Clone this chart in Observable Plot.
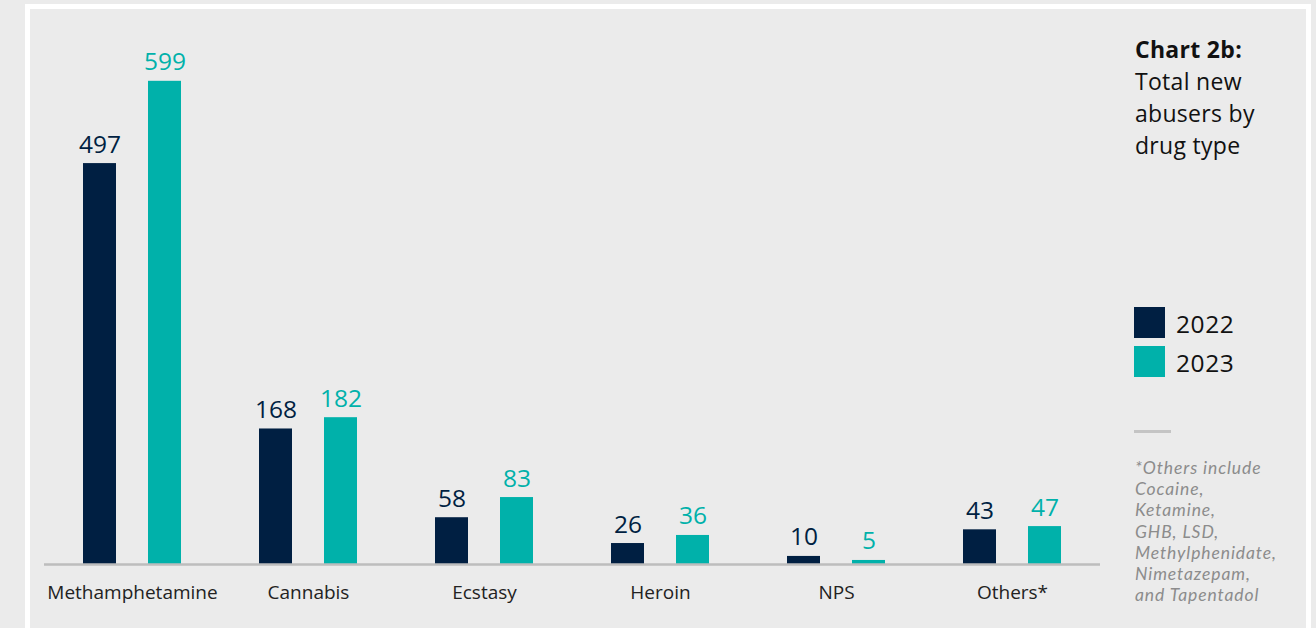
<!DOCTYPE html>
<html>
<head>
<meta charset="utf-8">
<script src="https://cdn.jsdelivr.net/npm/d3@7"></script>
<script src="https://cdn.jsdelivr.net/npm/@observablehq/plot@0.6"></script>
<style>
  html, body { margin: 0; padding: 0; background: #ebebeb; width: 1316px; height: 628px; overflow: hidden; font-family: "Open Sans", sans-serif; }
  .frame { position: absolute; left: 25px; top: 4px; width: 1276px; height: 700px; border: 5px solid #ffffff; background: #ebebeb; }
  #chart { position: absolute; left: 0; top: 0; }
  .title { position: absolute; left: 1135px; top: 33px; font-size: 23px; line-height: 32px; color: #111; letter-spacing: 0.3px; }
  .title b { font-weight: 700; }
  .sw { position: absolute; left: 1134px; width: 31px; height: 31px; }
  .lg { position: absolute; left: 1176px; font-size: 24.5px; line-height: 31px; color: #111; letter-spacing: 0.6px; }
  .sep { position: absolute; left: 1134px; top: 430px; width: 37px; height: 3px; background: #c4c4c4; }
  .nl { position: absolute; left: 1135px; font-family: Lato, sans-serif; font-size: 17.5px; line-height: 21px; font-style: italic; color: #8c8c8c; letter-spacing: 0.9px; white-space: nowrap; }
</style>
</head>
<body>
<div class="frame"></div>
<div id="chart"></div>
<div class="title"><b>Chart 2b:</b><br>Total new<br>abusers by<br>drug type</div>
<div id="legend"></div>
<div class="sep"></div>
<div id="note"></div>
<script>
const categories = ["Methamphetamine", "Cannabis", "Ecstasy", "Heroin", "NPS", "Others*"];
const years = ["2022", "2023"];
const values2022 = [497, 168, 58, 26, 10, 43];
const values2023 = [599, 182, 83, 36, 5, 47];
const colors = ["#001f42", "#00b1aa"];
const noteLines = ["*Others include", "Cocaine,", "Ketamine,", "GHB, LSD,", "Methylphenidate,", "Nimetazepam,", "and Tapentadol"];

const data = categories.flatMap((c, i) => [
  {category: c, year: years[0], value: values2022[i]},
  {category: c, year: years[1], value: values2023[i]}
]);

const chart = Plot.plot({
  width: 1100,
  height: 628,
  marginLeft: 44,
  marginRight: 0,
  marginTop: 80,
  marginBottom: 64,
  style: {background: "transparent", fontFamily: "'Open Sans', sans-serif", overflow: "visible"},
  fx: {domain: categories, padding: 0, label: null},
  x: {domain: years, paddingInner: 0.5, paddingOuter: 0.6, axis: null},
  y: {domain: [0, 600], axis: null},
  color: {domain: years, range: colors},
  marks: [
    Plot.barY(data, {fx: "category", x: "year", y: "value", fill: "year"}),
    Plot.ruleY([0], {stroke: "#bdbdbd", strokeWidth: 2.5}),
    Plot.text(data, {fx: "category", x: "year", y: "value", text: d => String(d.value), fill: "year", lineAnchor: "bottom", dy: -11, fontSize: 24.5}),
    Plot.axisFx({anchor: "bottom", tickSize: 0, tickPadding: 21, fontSize: 19, color: "#222", label: null})
  ]
});
document.getElementById("chart").appendChild(chart);

const legend = document.getElementById("legend");
years.forEach((y, i) => {
  const sw = document.createElement("div");
  sw.className = "sw";
  sw.style.top = (307 + i * 39) + "px";
  sw.style.background = colors[i];
  legend.appendChild(sw);
  const t = document.createElement("div");
  t.className = "lg";
  t.style.top = (308 + i * 39) + "px";
  t.textContent = y;
  legend.appendChild(t);
});

const note = document.getElementById("note");
noteLines.forEach((line, i) => {
  const d = document.createElement("div");
  d.className = "nl";
  d.style.top = (457 + i * 21.2) + "px";
  d.textContent = line;
  note.appendChild(d);
});
</script>
</body>
</html>
